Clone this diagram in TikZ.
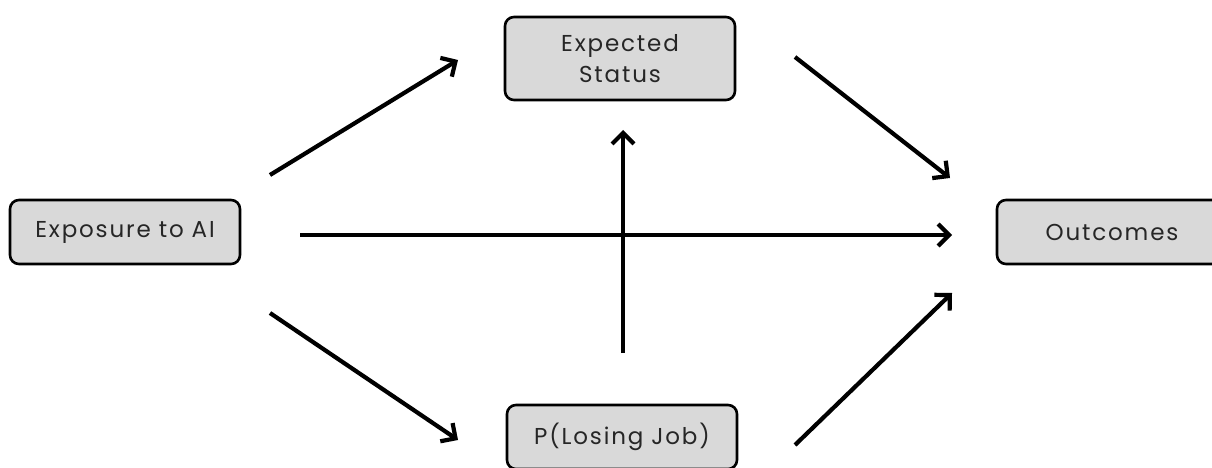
\documentclass[tikz,border=0pt]{standalone}
\usepackage{fontspec}
\setmainfont{Poppins}[LetterSpace=8]
\usetikzlibrary{arrows.meta}
\definecolor{boxgray}{HTML}{D9D9D9}
\begin{document}
\begin{tikzpicture}[x=1pt,y=-1pt,
  box/.style={draw=black, line width=2.6pt, fill=boxgray, rounded corners=9pt,
    minimum width=230pt, minimum height=64pt, inner sep=0pt, align=center,
    font=\fontsize{23}{31}\selectfont, text=black!85},
  arr/.style={line width=4.2pt, -{Straight Barb[length=11pt,width=22pt,line width=4.2pt]}}]
\useasboundingbox (0,0) rectangle (1212,468);
\node[box] (exp) at (125,232) {Exposure to AI};
\node[box, minimum height=83pt] (stat) at (620,58.5) {Expected\\Status};
\node[box] (out) at (1112,232) {Outcomes};
\node[box] (job) at (622,437) {P(Losing Job)};
\coordinate (a1s) at (270,175); \coordinate (a1e) at (458,60);
\coordinate (a2s) at (300,235); \coordinate (a2e) at (952,235);
\coordinate (a3s) at (270,313); \coordinate (a3e) at (458,440);
\coordinate (a4s) at (795,57);  \coordinate (a4e) at (950,178);
\coordinate (a5s) at (795,445); \coordinate (a5e) at (952,293);
\coordinate (a6s) at (623,353); \coordinate (a6e) at (623,130);
\draw[arr] (a1s) -- (a1e);
\draw[arr] (a2s) -- (a2e);
\draw[arr] (a3s) -- (a3e);
\draw[arr] (a4s) -- (a4e);
\draw[arr] (a5s) -- (a5e);
\draw[arr] (a6s) -- (a6e);
\end{tikzpicture}
\end{document}
